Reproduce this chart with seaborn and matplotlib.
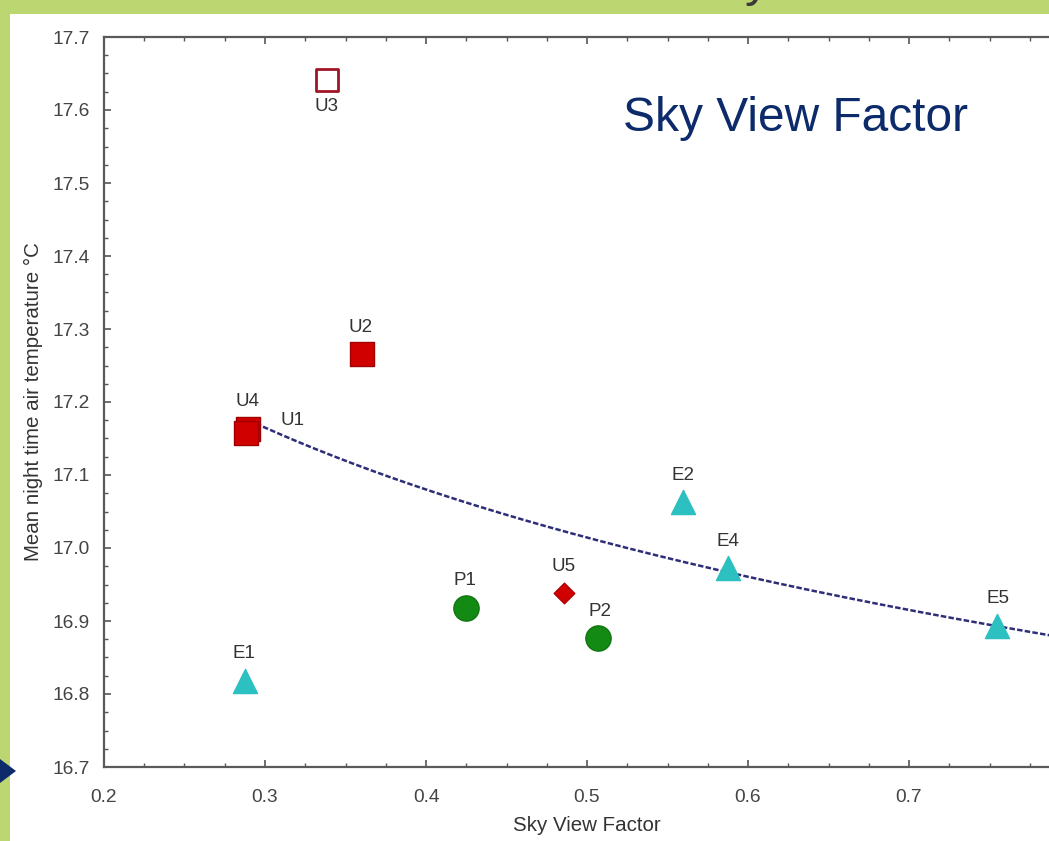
import numpy as np
import pandas as pd
import matplotlib
matplotlib.use("Agg")
import matplotlib.pyplot as plt
from matplotlib.patches import Rectangle, Polygon
from matplotlib.ticker import MultipleLocator, FormatStrFormatter
import seaborn as sns

# Measurement sites: sky view factor vs. mean night-time air temperature
sites = ["U1", "U2", "U3", "U4", "U5", "P1", "P2", "E1", "E2", "E4", "E5"]
svf = [0.2895, 0.360, 0.3385, 0.288, 0.4857, 0.4248, 0.5068, 0.2876, 0.5596, 0.5876, 0.7547]
temp = [17.163, 17.266, 17.641, 17.158, 16.938, 16.918, 16.877, 16.818, 17.063, 16.973, 16.893]
group = ["urban", "urban", "urban_open", "urban", "urban_mixed", "park", "park",
         "edge", "edge", "edge", "edge"]

# Logarithmic trend: T = a + b * ln(SVF)
trend_a = 16.810
trend_b = -0.2948
trend_range = [0.290, 0.80]

x_ticks = [0.2, 0.3, 0.4, 0.5, 0.6, 0.7, 0.8]
y_ticks = [16.7, 16.8, 16.9, 17.0, 17.1, 17.2, 17.3, 17.4, 17.5, 17.6, 17.7]

df = pd.DataFrame({"site": sites, "svf": svf, "temp": temp, "group": group})

sns.set_style("white")
plt.rcParams["font.family"] = ["Liberation Sans", "DejaVu Sans"]

W, H = 1049, 841
fig = plt.figure(figsize=(W / 100, H / 100), dpi=100)
fig.patch.set_facecolor("#bcd672")

# white slide panel
fig.add_artist(Rectangle((10 / W, 0), 1 - 10 / W, 1 - 14 / H,
                         transform=fig.transFigure, facecolor="white",
                         edgecolor="none", zorder=0))
# navy bullet arrow at the left edge
fig.add_artist(Polygon([[0, 1 - 759 / H], [16 / W, 1 - 771 / H], [0, 1 - 783 / H]],
                       closed=True, transform=fig.transFigure,
                       facecolor="#0d2a6b", edgecolor="none", zorder=1))
# descender of the heading line above
fig.text(757 / W, 1 + 4 / H, "y", fontsize=36, color="#3a3a3a",
         ha="center", va="baseline")

ax = fig.add_axes([104 / W, 74 / H, 966 / W, 730 / H])
ax.set_facecolor("none")

styles = {
    "urban": dict(marker="s", s=290, color="#d00000", edgecolor="#a00000", linewidth=1),
    "urban_open": dict(marker="s", s=240, color="white", edgecolor="#a01526", linewidth=2),
    "urban_mixed": dict(marker="D", s=110, color="#d00000", edgecolor="#b00000", linewidth=1),
    "park": dict(marker="o", s=330, color="#138a13", edgecolor="#107510", linewidth=1),
    "edge": dict(marker="^", s=300, color="#2cc0c0", edgecolor="#2cc0c0", linewidth=1),
}

# trend curve
xs = np.linspace(trend_range[0], trend_range[1], 300)
ax.plot(xs, trend_a + trend_b * np.log(xs), color="#2e2e78", lw=1.8,
        linestyle=(0, (2.2, 0.9)), zorder=2)

for g, st in styles.items():
    sub = df[df["group"] == g]
    sns.scatterplot(data=sub, x="svf", y="temp", ax=ax, legend=False, zorder=3, **st)

label_offsets = {
    "U1": (44, 9), "U2": (-1, 26), "U3": (0, -26), "U4": (2, 31), "U5": (0, 27),
    "P1": (-1, 27), "P2": (2, 26), "E1": (-1, 27), "E2": (0, 27), "E4": (0, 26),
    "E5": (1, 28),
}
for _, r in df.iterrows():
    dx, dy = label_offsets[r["site"]]
    ax.annotate(r["site"], (r["svf"], r["temp"]), xytext=(dx, dy),
                textcoords="offset pixels", ha="center", va="center",
                fontsize=13.5, color="#333333", zorder=4)

ax.text(0.894, 0.889, "Sky View Factor", transform=ax.transAxes,
        fontsize=34.5, color="#0d2a6b", ha="right", va="center")

ax.set_xlim(0.2, 0.8)
ax.set_ylim(16.7, 17.7)
ax.set_xticks(x_ticks)
ax.set_yticks(y_ticks)
ax.xaxis.set_major_formatter(FormatStrFormatter("%.1f"))
ax.yaxis.set_major_formatter(FormatStrFormatter("%.1f"))
ax.xaxis.set_minor_locator(MultipleLocator(0.025))
ax.yaxis.set_minor_locator(MultipleLocator(0.025))
ax.tick_params(which="both", direction="in", top=True, bottom=True, left=True,
               right=False, color="#555555")
ax.tick_params(which="major", length=5, width=1.2, labelsize=13.8,
               labelcolor="#444444")
ax.tick_params(axis="x", which="major", pad=16)
ax.tick_params(axis="y", which="major", pad=10)
ax.tick_params(which="minor", length=3, width=1)
for side in ["left", "bottom", "top", "right"]:
    ax.spines[side].set_color("#5a5a5a")
    ax.spines[side].set_linewidth(1.6)

ax.set_xlabel("Sky View Factor", fontsize=14.8, color="#333333", labelpad=7)
ax.set_ylabel("Mean night time air temperature °C", fontsize=14.8,
              color="#333333", labelpad=7)

fig.savefig("out.png", dpi=100)
